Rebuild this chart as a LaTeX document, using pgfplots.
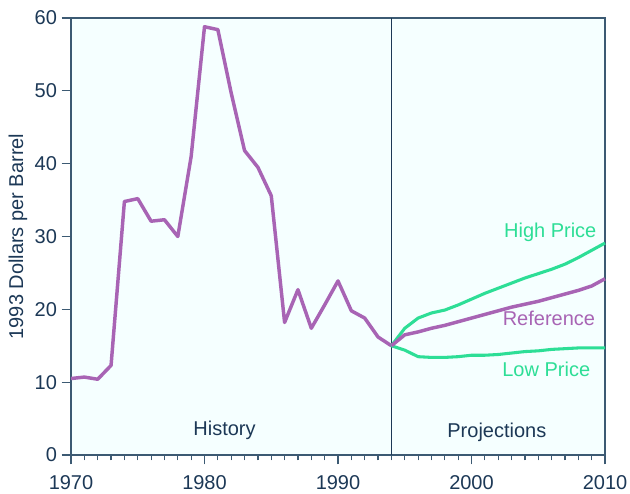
\documentclass[border=0pt]{standalone}
\usepackage{fontspec}
\setmainfont{Liberation Sans}
\usepackage{pgfplots}
\pgfplotsset{compat=1.18}

\definecolor{navy}{RGB}{28,56,86}
\definecolor{axisgray}{RGB}{60,90,115}
\definecolor{oilpurple}{RGB}{168,100,180}
\definecolor{oilgreen}{RGB}{45,222,150}
\definecolor{paleback}{RGB}{245,255,255}

\begin{document}
\begin{tikzpicture}[x=0.75pt,y=0.75pt]
\begin{axis}[
  scale only axis,
  width=400.5pt, height=327.75pt,
  xmin=1970, xmax=2010,
  ymin=0, ymax=60,
  axis background/.style={fill=paleback},
  axis line style={axisgray, line width=0.9pt},
  xtick={1970,1980,1990,2000,2010},
  minor x tick num=9,
  ytick={0,10,20,30,40,50,60},
  tick align=outside,
  tick pos=left,
  major tick length=7pt,
  minor tick length=4pt,
  every tick/.style={axisgray, line width=0.9pt},
  /pgf/number format/assume math mode=true,
  /pgf/number format/1000 sep={},
  tick label style={font=\fontsize{15}{18}\selectfont, text=navy},
  xticklabel style={yshift=-5pt},
  ylabel={1993 Dollars per Barrel},
  ylabel style={font=\fontsize{15}{18}\selectfont, text=navy,
    at={(axis description cs:-0.0993,0.5)}, anchor=center},
  clip=false,
]
% vertical divider at 1994
\addplot[navy, line width=0.8pt] coordinates {(1994,0) (1994,60)};

% history
\addplot[oilpurple, line width=2.6pt, line join=round] coordinates {
(1970,10.5) (1971,10.7) (1972,10.4) (1973,12.3) (1974,34.8) (1975,35.2)
(1976,32.1) (1977,32.3) (1978,30.0) (1979,41.0) (1980,58.8) (1981,58.4)
(1982,49.7) (1983,41.8) (1984,39.5) (1985,35.6) (1986,18.2) (1987,22.7)
(1988,17.4) (1989,20.6) (1990,23.9) (1991,19.8) (1992,18.8) (1993,16.2)
(1994,15.0)
};

% high price
\addplot[oilgreen, line width=2.3pt, line join=round] coordinates {
(1994,15.0) (1995,17.4) (1996,18.8) (1997,19.5) (1998,19.9) (1999,20.6)
(2000,21.4) (2001,22.2) (2002,22.9) (2003,23.6) (2004,24.3) (2005,24.9)
(2006,25.5) (2007,26.2) (2008,27.1) (2009,28.1) (2010,29.1)
};

% low price
\addplot[oilgreen, line width=2.3pt, line join=round] coordinates {
(1994,15.0) (1995,14.4) (1996,13.5) (1997,13.4) (1998,13.4) (1999,13.5)
(2000,13.7) (2001,13.7) (2002,13.8) (2003,14.0) (2004,14.2) (2005,14.3)
(2006,14.5) (2007,14.6) (2008,14.7) (2009,14.7) (2010,14.7)
};

% reference
\addplot[oilpurple, line width=2.6pt, line join=round] coordinates {
(1994,15.0) (1995,16.5) (1996,16.9) (1997,17.4) (1998,17.8) (1999,18.3)
(2000,18.8) (2001,19.3) (2002,19.8) (2003,20.3) (2004,20.7) (2005,21.1)
(2006,21.6) (2007,22.1) (2008,22.6) (2009,23.2) (2010,24.2)
};

\node[text=navy, font=\fontsize{15}{18}\selectfont] at (axis cs:1981.5,3.4) {History};
\node[text=navy, font=\fontsize{15}{18}\selectfont] at (axis cs:2001.9,3.1) {Projections};
\node[text=oilgreen, font=\fontsize{15}{18}\selectfont] at (axis cs:2005.9,30.6) {High Price};
\node[text=oilpurple, font=\fontsize{15}{18}\selectfont] at (axis cs:2005.8,18.7) {Reference};
\node[text=oilgreen, font=\fontsize{15}{18}\selectfont] at (axis cs:2005.6,11.8) {Low Price};
\end{axis}
\pgfresetboundingbox
\path[use as bounding box] (-71,-38) rectangle (559,455);
\end{tikzpicture}
\end{document}
